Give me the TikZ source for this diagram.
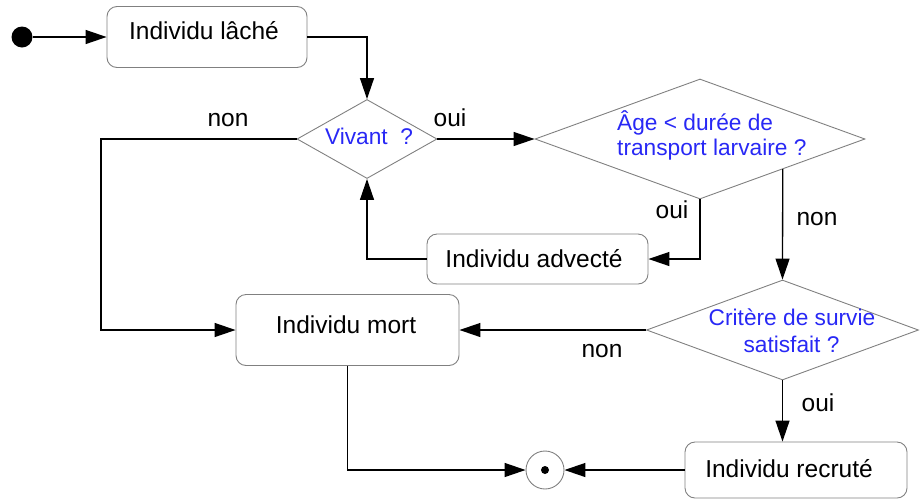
\documentclass[tikz,border=0pt]{standalone}
\usepackage{fontspec}
\setmainfont{Liberation Sans}
\usetikzlibrary{shapes.geometric,arrows.meta}
\definecolor{qblue}{RGB}{40,40,245}
\definecolor{boxgray}{RGB}{128,128,128}
\begin{document}
\begin{tikzpicture}[x=1pt,y=-1pt,
  box/.style={draw=boxgray, line width=0.9pt, rounded corners=10pt, inner sep=0pt},
  dia/.style={diamond, draw=boxgray, line width=0.9pt, inner sep=0pt},
  lbl/.style={font=\fontsize{24.5}{28}\selectfont, anchor=base, inner sep=0pt},
  qtext/.style={font=\fontsize{22.7}{26}\selectfont, text=qblue, inner sep=0pt, anchor=base},
  conn/.style={line width=1.3pt, -{Triangle[length=21pt,width=14pt]}},
]
\useasboundingbox (0,0) rectangle (920,499);

% nodes
\node[circle, fill=black, inner sep=0pt, minimum size=21pt] (start) at (22,37) {};
\node[box, minimum width=200pt, minimum height=61pt] (lache) at (207,37) {};
\node[dia, minimum width=140pt, minimum height=79pt] (vivant) at (367,139) {};
\node[dia, minimum width=330pt, minimum height=120pt] (age) at (700,139) {};
\node[box, minimum width=221pt, minimum height=50pt] (advecte) at (537.5,259) {};
\node[box, minimum width=223pt, minimum height=71pt] (mort) at (347.5,330) {};
\node[dia, minimum width=272pt, minimum height=100pt] (critere) at (782.5,330) {};
\node[box, minimum width=222pt, minimum height=56pt] (recrute) at (796,470) {};
\node[circle, draw=boxgray, line width=0.9pt, inner sep=0pt, minimum size=38pt] (end) at (545,470) {};
\node[circle, fill=black, inner sep=0pt, minimum size=8pt] (enddot) at (end) {};

% texts
\node[lbl] (tlache) at (204,39) {Individu lâché};
\node[lbl] (tmort) at (346,333) {Individu mort};
\node[lbl] (tadvecte) at (534,267) {Individu advecté};
\node[lbl] (trecrute) at (789,477) {Individu recruté};
\node[qtext] (tvivant) at (369,144) {Vivant\ \ ?};
\node[qtext, anchor=base west] (tage1) at (617,130) {Âge < durée de};
\node[qtext, anchor=base west] (tage2) at (617,155) {transport larvaire ?};
\node[qtext] (tcrit1) at (792,325) {Critère de survie};
\node[qtext] (tcrit2) at (791.5,352) {satisfait ?};

% branch labels
\node[lbl] (lnon1) at (228,126) {non};
\node[lbl] (loui1) at (450,126) {oui};
\node[lbl] (loui2) at (672,218) {oui};
\node[lbl] (lnon2) at (817,225) {non};
\node[lbl] (lnon3) at (602,357) {non};
\node[lbl] (loui3) at (818,411) {oui};

% connectors
\coordinate (cleft) at (101,139);
\draw[conn] (start.east) -- (lache.west);
\draw[conn] (lache.east) -| (vivant.north);
\draw[conn] (vivant.east) -- (age.west);
\draw[conn] (vivant.west) -- (cleft) |- (mort.west);
\draw[conn] (age.south) |- (advecte.east);
\draw[conn] (advecte.west) -| (vivant.south);
\draw[conn] (age.south east) -- (critere.north);
\draw[conn] (critere.west) -- (critere.west -| mort.east);
\draw[conn] (critere.south) -- (critere.south |- recrute.north);
\draw[conn] (recrute.west) -- (end.east);
\draw[conn] (mort.south) |- (end.west);
\end{tikzpicture}
\end{document}
